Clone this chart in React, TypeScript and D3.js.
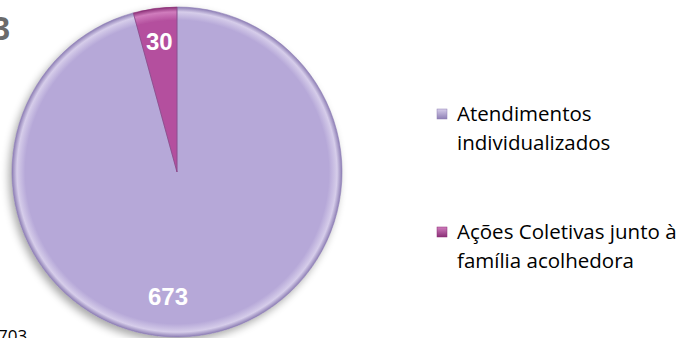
import React from "react";
import * as d3 from "d3";

const categories = ["Atendimentos individualizados", "Ações Coletivas junto à família acolhedora"];
const values = [673, 30];
const legendLines = [["Atendimentos", "individualizados"], ["Ações Coletivas junto à", "família acolhedora"]];
const colors = ["#b6a8d8", "#b4509e"];
const darkColors = ["#8e7fb5", "#8a2f76"];
const lightColors = ["#d6cdea", "#d07cbd"];
const totalLabel = "703";

export default function App() {
  const W = 686, H = 338;
  const cx = 177, cy = 172, r = 165;
  const pie = d3.pie<number>().sort(null).value((d) => d);
  const arcs = pie(values);
  const arc = d3.arc<d3.PieArcDatum<number>>().innerRadius(0).outerRadius(r);
  const labelArc = d3.arc<d3.PieArcDatum<number>>().innerRadius(r * 0.8).outerRadius(r * 0.8);

  return (
    <svg width={W} height={H} style={{ position: "absolute", left: 0, top: 0, background: "#fff" }}>
      <defs>
        <filter id="sh" x="-20%" y="-20%" width="140%" height="140%">
          <feGaussianBlur in="SourceAlpha" stdDeviation="4" />
          <feOffset dx="-3" dy="4" result="b" />
          <feComponentTransfer><feFuncA type="linear" slope="0.35" /></feComponentTransfer>
          <feMerge><feMergeNode /><feMergeNode in="SourceGraphic" /></feMerge>
        </filter>
        {colors.map((c, i) => (
          <radialGradient key={i} id={`g${i}`} cx={0} cy={0} r={r} gradientUnits="userSpaceOnUse">
            <stop offset="0%" stopColor={c} />
            <stop offset="92%" stopColor={c} />
            <stop offset="97%" stopColor={lightColors[i]} />
            <stop offset="100%" stopColor={darkColors[i]} />
          </radialGradient>
        ))}
        {colors.map((c, i) => (
          <linearGradient key={i} id={`lg${i}`} x1="0" y1="0" x2="0" y2="1">
            <stop offset="0%" stopColor={lightColors[i]} />
            <stop offset="100%" stopColor={darkColors[i]} />
          </linearGradient>
        ))}
      </defs>
      <g transform={`translate(${cx},${cy})`}>
        <g filter="url(#sh)">
          {arcs.map((a, i) => (
            <path key={i} d={arc(a) || ""} fill={`url(#g${i})`} />
          ))}
        </g>
        {arcs.map((a, i) => (
          <path key={"s" + i} d={arc(a) || ""} fill="none" stroke={darkColors[i]} strokeOpacity={0.6} strokeWidth={1} />
        ))}
        {arcs.map((a, i) => {
          let [x, y] = labelArc.centroid(a);
          if (i === 0) { x = -9; y = 125; }
          return (
            <text key={"t" + i} x={x} y={y} dy="0.35em" textAnchor="middle" fill="#fff"
              fontFamily="'Liberation Sans', Arial, sans-serif" fontWeight="bold" fontSize={24}>
              {values[i]}
            </text>
          );
        })}
      </g>
      <text x={10} y={40} textAnchor="end" fontFamily="'Liberation Sans', Arial, sans-serif" fontWeight="bold" fontSize={33} fill="#6b6b6b">3</text>
      <text x={-2} y={342} fontFamily="'Open Sans', sans-serif" fontSize={17} fill="#000">{totalLabel}</text>
      {legendLines.map((lines, i) => {
        const y0 = i === 0 ? 121 : 239;
        return (
          <g key={"l" + i}>
            <rect x={437} y={y0 - 12} width={10} height={10} fill={`url(#lg${i})`} stroke={darkColors[i]} strokeWidth={0.5} />
            {lines.map((t, j) => (
              <text key={j} x={457} y={y0 + j * 29} fontFamily="'Open Sans', sans-serif" fontSize={20.5} fill="#000">{t}</text>
            ))}
          </g>
        );
      })}
    </svg>
  );
}
